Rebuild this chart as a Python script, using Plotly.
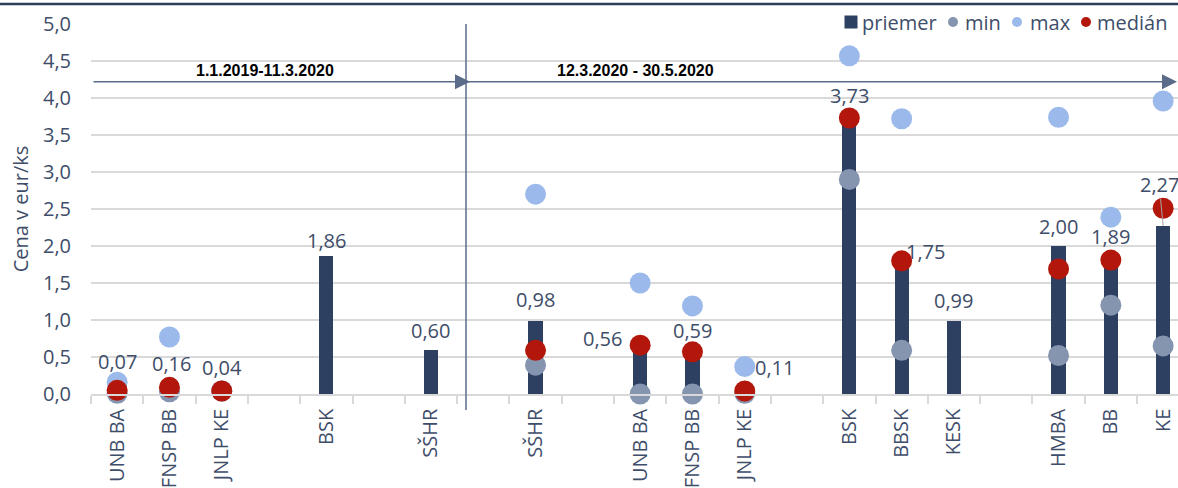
import plotly.graph_objects as go

# Category slots (empty strings are spacer slots between groups)
categories = ["UNB BA", "FNSP BB", "JNLP KE", "", "BSK", "", "SŠHR", "", "SŠHR", "",
              "UNB BA", "FNSP BB", "JNLP KE", "", "BSK", "BBSK", "KESK", "", "HMBA", "BB", "KE"]
priemer = [0.07, 0.16, 0.04, None, 1.86, None, 0.60, None, 0.98, None,
           0.56, 0.59, 0.11, None, 3.73, 1.75, 0.99, None, 2.00, 1.89, 2.27]
minimum = [0.01, 0.03, 0.04, None, None, None, None, None, 0.39, None,
           0.00, 0.00, 0.01, None, 2.90, 0.59, None, None, 0.52, 1.20, 0.65]
maximum = [0.16, 0.77, 0.04, None, None, None, None, None, 2.70, None,
           1.50, 1.19, 0.37, None, 4.57, 3.72, None, None, 3.74, 2.39, 3.96]
median = [0.05, 0.09, 0.04, None, None, None, None, None, 0.59, None,
          0.66, 0.57, 0.04, None, 3.73, 1.80, None, None, 1.69, 1.81, 2.51]
period_labels = ["1.1.2019-11.3.2020", "12.3.2020 - 30.5.2020"]
y_ticks = [0.0, 0.5, 1.0, 1.5, 2.0, 2.5, 3.0, 3.5, 4.0, 4.5, 5.0]
y_title = "Cena v eur/ks"
series_names = ["priemer", "min", "max", "medián"]

# Styling
C_BAR = "#2E4061"
C_MIN = "#8594AF"
C_MAX = "#9BBAEB"
C_MED = "#B3170B"
C_TEXT = "#3E4D69"
C_GRID = "#D9D9D9"
C_ARROW = "#5B6B8A"
FONT = "Open Sans, Noto Sans, sans-serif"
BOLD_FONT = "Liberation Sans, Arial, sans-serif"
FS = 20

W, H = 1178, 488
M_L, M_T, M_B = 91, 24, 94
PLOT_W = W - M_L
PLOT_H = H - M_T - M_B
SLOT_PX = 52.3
x_hi = -0.5 + PLOT_W / SLOT_PX

x = list(range(len(categories)))
tick_pos = [i for i, c in enumerate(categories) if c]
tick_txt = [categories[i] for i in tick_pos]
boundaries = [i - 0.5 for i in range(len(categories) + 1)]


def paper_x(px):
    return (px - M_L) / PLOT_W


def paper_y(py):
    return (M_T + PLOT_H - py) / PLOT_H


fig = go.Figure()
fig.add_trace(go.Bar(x=x, y=priemer, name=series_names[0], width=0.27,
                     marker=dict(color=C_BAR, line=dict(width=0))))
for vals, col, nm in [(minimum, C_MIN, series_names[1]),
                      (maximum, C_MAX, series_names[2]),
                      (median, C_MED, series_names[3])]:
    fig.add_trace(go.Scatter(x=x, y=vals, mode="markers", name=nm,
                             cliponaxis=False,
                             marker=dict(size=21, color=col, line=dict(width=0))))

# value labels for the averages: (dx px, dy px up)
label_shift = {0: (0, 27), 1: (2, 19), 2: (0, 24), 4: (0, 16), 6: (0, 19), 8: (0, 22),
               10: (-38, 14), 11: (0, 20), 12: (30, 18), 14: (0, 22), 15: (24, 13),
               16: (0, 20), 18: (0, 20), 19: (0, 18)}
annotations = []
for i, v in enumerate(priemer):
    if v is None:
        continue
    txt = f"{v:.2f}".replace(".", ",")
    if i in label_shift:
        dx, dy = label_shift[i]
        annotations.append(dict(x=i, y=v, xref="x", yref="y", text=txt, showarrow=False,
                                xshift=dx, yshift=dy, xanchor="center", yanchor="middle",
                                font=dict(family=FONT, size=FS, color=C_TEXT)))
    else:
        # label with a leader line
        annotations.append(dict(x=i, y=v, xref="x", yref="y", text=txt, showarrow=True,
                                ax=-4, ay=-42, arrowhead=0, arrowwidth=1,
                                arrowcolor="#A6A6A6",
                                font=dict(family=FONT, size=FS, color=C_TEXT)))

# period arrows and their captions
arrow_y = 4.22
annotations.append(dict(x=paper_x(470), y=arrow_y, xref="paper", yref="y", text="",
                        showarrow=True, ax=-378, ay=0, arrowhead=2, arrowsize=2,
                        arrowwidth=1.5, arrowcolor=C_ARROW))
annotations.append(dict(x=paper_x(1186), y=arrow_y, xref="paper", yref="y", text="",
                        showarrow=True, ax=-720, ay=0, arrowhead=2, arrowsize=2,
                        arrowwidth=1.5, arrowcolor=C_ARROW))
for lbl, cx in zip(period_labels, [265, 635]):
    annotations.append(dict(x=paper_x(cx), y=4.365, xref="paper", yref="y", text=f"<b>{lbl}</b>",
                            showarrow=False, xanchor="center", yanchor="middle",
                            font=dict(family=BOLD_FONT, size=16, color="#000000")))

shapes = [
    # separator between the two periods
    dict(type="line", xref="paper", yref="paper", x0=paper_x(466), x1=paper_x(466),
         y0=paper_y(410), y1=1.0, line=dict(color=C_ARROW, width=1.5)),
    # rule under the heading
    dict(type="line", xref="paper", yref="paper", x0=-0.1, x1=1.05,
         y0=paper_y(4), y1=paper_y(4), line=dict(color="#2E3F5C", width=2.5)),
]

# legend row in the top right corner: (symbol, colour, symbol centre px, text left px)
legend_y = 22
legend_items = [("square", C_BAR, 851, 860), ("circle", C_MIN, 953, 963),
                ("circle", C_MAX, 1017, 1028), ("circle", C_MED, 1086, 1095)]
for (sym, col, cx, tx), nm in zip(legend_items, series_names):
    r = 6.5 if sym == "square" else 5
    shapes.append(dict(type="rect" if sym == "square" else "circle",
                       xref="paper", yref="paper",
                       x0=paper_x(cx - r), x1=paper_x(cx + r),
                       y0=paper_y(legend_y + r), y1=paper_y(legend_y - r),
                       fillcolor=col, line=dict(width=0)))
    annotations.append(dict(x=paper_x(tx), y=paper_y(legend_y), xref="paper", yref="paper",
                            text=nm, showarrow=False, xanchor="left", yanchor="middle",
                            font=dict(family=FONT, size=FS, color=C_TEXT)))

fig.update_layout(
    width=W, height=H,
    margin=dict(l=M_L, r=0, t=M_T, b=M_B, pad=0),
    paper_bgcolor="white", plot_bgcolor="white",
    separators=", ",
    font=dict(family=FONT, size=FS, color=C_TEXT),
    showlegend=False,
    annotations=annotations,
    shapes=shapes,
    bargap=0,
)
fig.update_xaxes(range=[-0.5, x_hi], tickmode="array", tickvals=tick_pos, ticktext=tick_txt,
                 tickangle=-90, ticks="", showgrid=False, zeroline=False,
                 showline=True, linecolor=C_GRID, linewidth=1.5,
                 tickfont=dict(family=FONT, size=FS, color=C_TEXT), ticklabelstandoff=5,
                 minor=dict(tickmode="array", tickvals=boundaries, ticks="outside",
                            ticklen=8, tickwidth=1.5, tickcolor=C_GRID, showgrid=False))
fig.update_yaxes(range=[0, 5], tickmode="array", tickvals=y_ticks, tickformat=".1f",
                 showgrid=True, gridcolor=C_GRID, gridwidth=1.5, zeroline=False,
                 showline=False, ticks="", ticklabelstandoff=19,
                 tickfont=dict(family=FONT, size=FS, color=C_TEXT),
                 title=dict(text=y_title, standoff=8,
                            font=dict(family=FONT, size=FS, color=C_TEXT)))

fig.write_html("out.html")
